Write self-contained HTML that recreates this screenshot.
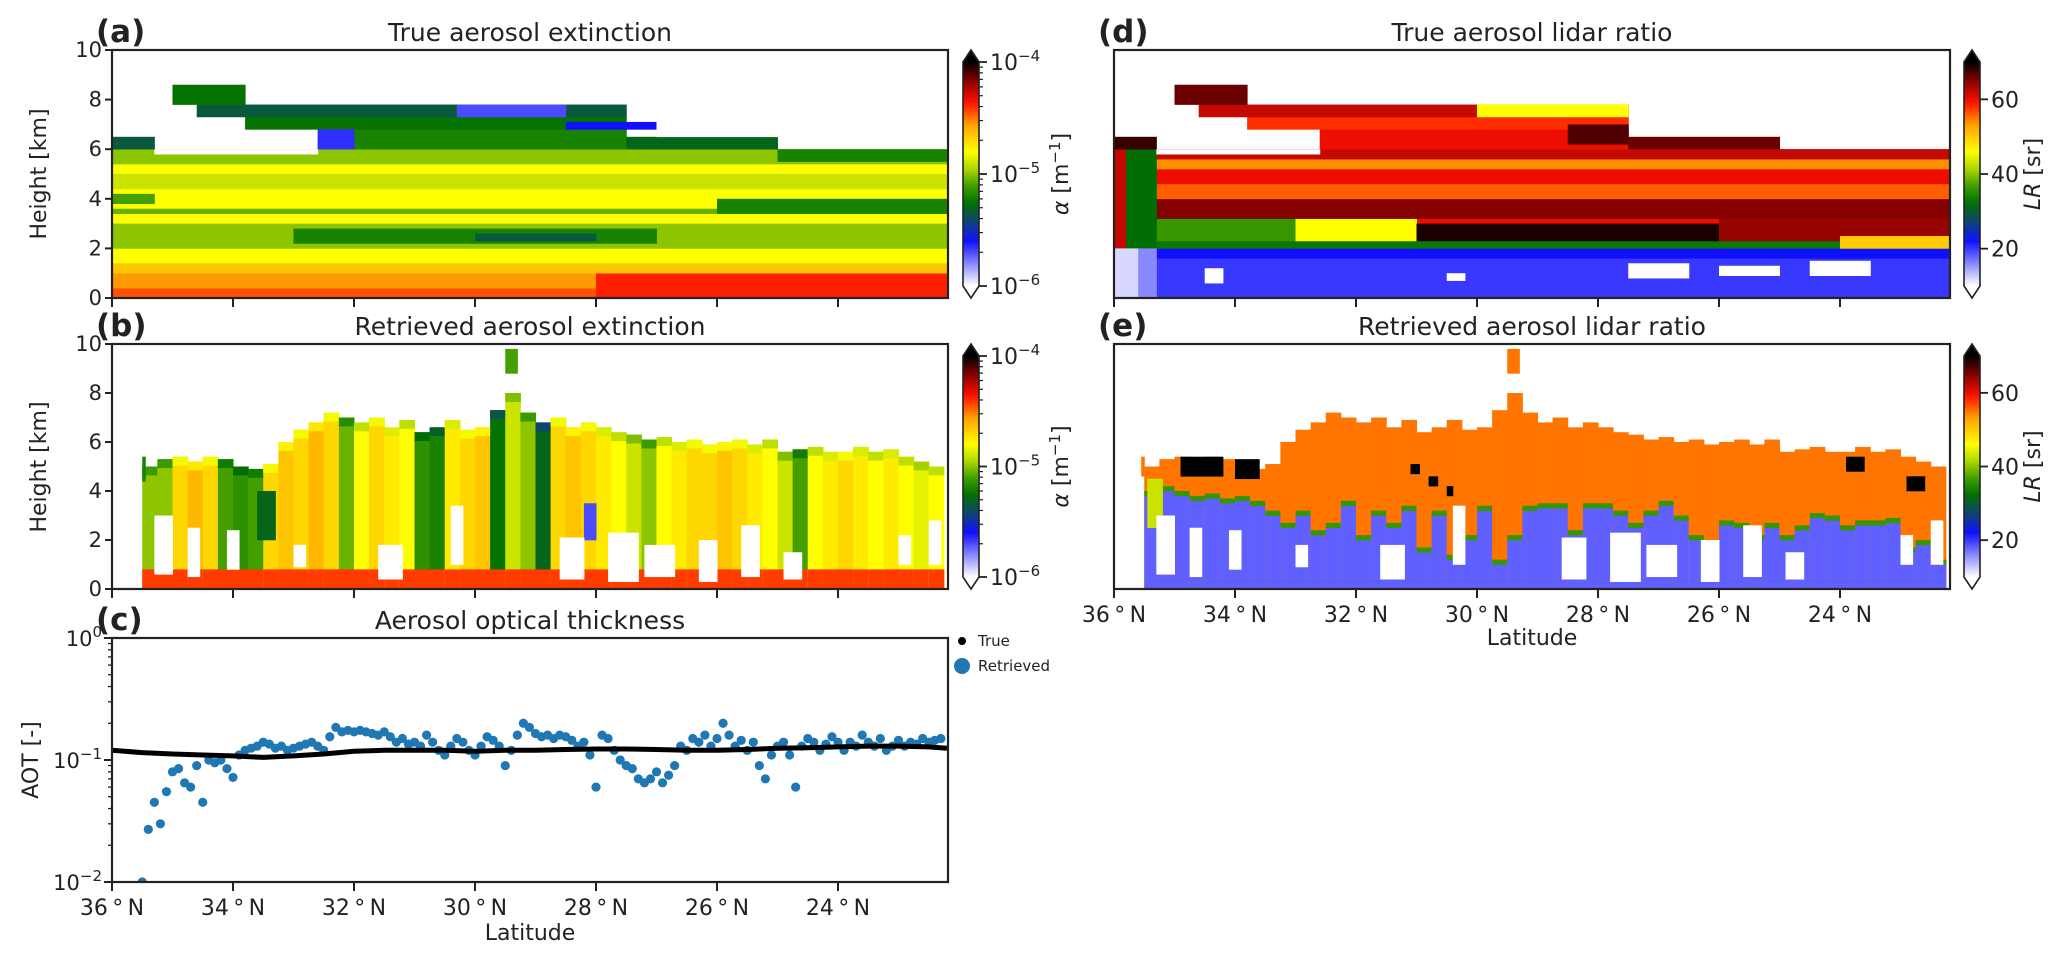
<!DOCTYPE html>
<html><head><meta charset="utf-8">
<style>
html,body{margin:0;padding:0;background:#fff;}
svg{display:block;font-family:"DejaVu Sans","Liberation Sans",sans-serif;}
</style></head>
<body>
<svg id="fig" width="2067" height="958" viewBox="0 0 2067 958" xmlns="http://www.w3.org/2000/svg"></svg>
<script>
// ---------------- DATA ----------------
// panel (a): true extinction layers [latFrom, latTo, hBottom km, hTop km, log10 alpha]
const extTrueLayers = [
 [36,22.1,0,6.0,-4.8],
 [36,22.1,0,0.4,-4.45],[36,22.1,0.4,1.0,-4.55],[28,22.1,0,1.0,-4.38],[36,22.1,1.0,1.4,-4.65],
 [36,22.1,2.0,3.0,-5.0],[33,27,2.2,2.8,-5.2],[30,28,2.3,2.6,-5.35],
 [36,35.3,3.8,4.2,-5.1],[36,22.1,3.4,3.6,-5.05],[26,22.1,3.4,4.0,-5.2],
 [36,22.1,4.4,5.0,-4.9],[36,22.1,5.4,6.0,-5.0],[25,22.1,5.5,6.0,-5.2],
 [36,35.3,6.0,6.5,-5.35],[32.6,27.5,6.0,6.8,-5.2],[33.8,27.5,6.8,7.3,-5.25],[34.6,27.5,7.3,7.8,-5.35],
 [32.6,32.0,6.0,6.8,-5.65],[30.3,28.5,7.3,7.8,-5.7],[28.5,27.0,6.8,7.1,-5.6],
 [27.5,25.0,6.0,6.5,-5.3],[35.0,33.8,7.8,8.6,-5.25],
 [35.3,32.6,5.8,6.0,null],[27.0,22.1,6.5,8,null]
];
// panel (d): true lidar ratio layers [latFrom, latTo, hBottom, hTop, LR sr]
const lrTrueLayers = [
 [36,22.1,0,6.0,60],
 [36,22.1,0,1.6,20],[36,22.1,1.6,2.0,22],[36,22.1,2.0,2.3,33],
 [36,33,2.3,3.2,36],[33,31,2.3,3.2,46],[31,26,2.3,3.0,69],[26,22.1,2.3,3.2,64],[24,22.1,2.0,2.5,50],
 [36,22.1,3.2,4.0,65],[36,22.1,4.0,4.6,56],[36,22.1,4.6,5.2,60],[36,22.1,5.2,5.6,54],[36,22.1,5.6,6.0,62],
 [36,35.8,2.0,6.0,62],[35.8,35.3,2.0,6.0,32],[36,35.6,0,2.0,12],[35.6,35.3,0,2.0,16],[36,35.3,6.0,6.5,68],
 [32.6,27.5,6.0,6.8,60],[33.8,27.5,6.8,7.3,58],[34.6,27.5,7.3,7.8,62],[30,27.5,7.3,7.8,46],[28.5,27.5,6.2,7.0,67],
 [27.5,25.0,6.0,6.5,66],[35.0,33.8,7.8,8.6,66],
 [34.5,34.2,0.6,1.2,null],[30.5,30.2,0.7,1.0,null],[27.5,26.5,0.8,1.4,null],[26,25,0.9,1.3,null],[24.5,23.5,0.9,1.5,null],
 [35.3,32.6,5.8,6.0,null]
];
// retrieval columns (0.25 deg wide, from 36N southward)
const colTop = [0,0,5.0,5.3,5.4,5.2,5.4,5.3,5.0,4.9,5.1,6.0,6.5,6.8,7.2,7.0,6.8,7.0,6.6,6.9,6.4,6.6,6.9,6.5,6.6,7.3,8.0,7.2,6.8,7.0,6.6,6.8,6.6,6.4,6.3,6.1,6.2,6.0,6.1,5.9,6.0,6.1,5.9,6.1,5.6,5.7,5.8,5.6,5.6,5.8,5.6,5.7,5.4,5.2,5.0];
const extRetCol = [0,0,-5.0,-5.0,-4.7,-4.62,-4.7,-5.1,-5.15,-5.1,-4.7,-4.65,-4.7,-4.62,-4.7,-5.05,-4.8,-4.7,-4.75,-4.8,-5.15,-5.2,-4.75,-4.7,-4.65,-5.25,-4.9,-5.0,-5.3,-4.7,-4.65,-4.7,-4.75,-4.8,-4.9,-5.0,-4.8,-4.75,-4.7,-4.7,-4.65,-4.7,-4.75,-4.8,-4.9,-5.1,-4.8,-4.75,-4.7,-4.75,-4.8,-4.75,-4.8,-4.85,-4.8];
const lrBlueTop = [0,0,3.8,4.0,3.8,3.6,3.7,3.5,3.6,3.4,3.0,2.5,3.0,2.2,2.5,3.4,2.0,3.0,2.5,3.2,1.5,3.0,1.2,2.0,3.2,1.0,2.0,3.2,3.3,3.3,2.2,3.3,3.3,3.0,2.5,3.0,3.4,2.8,2.0,1.8,2.6,2.5,2.0,2.5,2.0,2.4,2.9,2.8,2.4,2.6,2.6,2.7,1.5,1.8,1.0];
// gaps with no retrieval [latFrom, latTo, hBottom, hTop]
const holes = [[35.3,35.0,0.6,3.0],[34.75,34.55,0.5,2.5],[34.1,33.9,0.8,2.4],[33.0,32.8,0.9,1.8],[31.6,31.2,0.4,1.8],[30.4,30.2,1.0,3.4],[28.6,28.2,0.4,2.1],[27.8,27.3,0.3,2.3],[27.2,26.7,0.5,1.8],[26.3,26.0,0.3,2.0],[25.6,25.3,0.5,2.6],[24.9,24.6,0.4,1.5],[23.0,22.8,1.0,2.2],[22.5,22.3,1.0,2.8]];
const lrPatches = [[34.9,34.2,4.6,5.4,70],[34.0,33.6,4.5,5.3,70],[31.1,30.95,4.7,5.1,70],[30.8,30.65,4.2,4.6,70],[30.5,30.4,3.8,4.2,70],[23.9,23.6,4.8,5.4,70],[22.9,22.6,4.0,4.6,70],[35.45,35.2,2.5,4.5,43],[35.55,35.5,4.6,5.4,55]];
const extPatches = [[35.5,35.45,4.4,5.4,-5.2],[29.5,29.3,8.8,9.8,-5.1],[33.6,33.3,2.0,4.0,-5.3],[28.2,28.0,2.0,3.5,-5.7]];
// panel (c): AOT
const latTrue = [36,35.5,35,34.5,34,33.5,33,32.5,32,31.5,31,30.5,30,29.5,29,28.5,28,27.5,27,26.5,26,25.5,25,24.5,24,23.5,23,22.5,22.2];
const aotTrue = [0.12,0.115,0.112,0.11,0.108,0.105,0.108,0.112,0.118,0.12,0.12,0.12,0.118,0.12,0.12,0.122,0.123,0.123,0.122,0.12,0.12,0.122,0.125,0.126,0.128,0.13,0.13,0.128,0.125];
const latRetStart = 35.5, latRetStep = 0.1;
const aotRet = [0.01,0.027,0.045,0.03,0.055,0.08,0.085,0.065,0.06,0.09,0.045,0.1,0.095,0.1,0.085,0.072,0.11,0.12,0.125,0.13,0.14,0.135,0.125,0.13,0.12,0.125,0.13,0.135,0.14,0.13,0.12,0.155,0.185,0.17,0.175,0.17,0.175,0.17,0.165,0.16,0.17,0.155,0.14,0.15,0.135,0.14,0.13,0.16,0.14,0.12,0.11,0.13,0.15,0.14,0.12,0.11,0.13,0.155,0.145,0.13,0.09,0.12,0.16,0.2,0.185,0.165,0.155,0.16,0.15,0.16,0.155,0.145,0.13,0.14,0.11,0.06,0.16,0.15,0.12,0.1,0.09,0.085,0.07,0.065,0.07,0.08,0.065,0.075,0.09,0.13,0.12,0.15,0.14,0.16,0.13,0.15,0.2,0.16,0.13,0.145,0.12,0.14,0.09,0.07,0.11,0.13,0.14,0.11,0.06,0.13,0.15,0.14,0.12,0.135,0.155,0.14,0.12,0.14,0.13,0.16,0.14,0.13,0.15,0.12,0.13,0.145,0.13,0.14,0.135,0.15,0.14,0.145,0.15];
const heightTicks = [0,2,4,6,8,10];
const latTicks = [36,34,32,30,28,26,24];
const extCbTicks = [-4,-5,-6];
const lrCbTicks = [20,40,60];

// ---------------- helpers ----------------
const NS='http://www.w3.org/2000/svg';
const svg=document.getElementById('fig');
function el(tag,attrs,parent,text){const e=document.createElementNS(NS,tag);for(const k in attrs)e.setAttribute(k,attrs[k]);if(text!==undefined)e.textContent=text;(parent||svg).appendChild(e);return e;}
const stops=[[0,[255,255,255]],[0.2,[16,16,255]],[0.3,[16,74,96]],[0.37,[0,112,0]],[0.45,[68,160,0]],[0.52,[170,212,0]],[0.6,[255,255,0]],[0.72,[255,160,0]],[0.82,[255,16,0]],[0.92,[128,0,0]],[1,[0,0,0]]];
function cmap(t){t=Math.max(0,Math.min(1,t));for(let i=1;i<stops.length;i++){if(t<=stops[i][0]){const a=stops[i-1],b=stops[i];const f=(t-a[0])/(b[0]-a[0]);const c=a[1].map((v,j)=>Math.round(v+(b[1][j]-v)*f));return `rgb(${c[0]},${c[1]},${c[2]})`;}}return 'rgb(0,0,0)';}
const extT=v=>(v+6)/2, lrT=v=>(v-10)/60;
const LAT0=36, PXDEG=60.5;
function makePanel(left,top,bottom,right){return {left,top,bottom,right,x:lat=>left+(LAT0-lat)*PXDEG,y:h=>bottom-h/10*(bottom-top)};}
const A=makePanel(112,50,298,948), B=makePanel(112,344,589,948), C=makePanel(112,638,882,948);
const D=makePanel(1114,50,298,1950), E=makePanel(1114,344,589,1950);
let clipN=0;
const defs=el('defs',{});
function clipFor(P){const id='clip'+(clipN++);const cp=el('clipPath',{id},defs);el('rect',{x:P.left,y:P.top,width:P.right-P.left,height:P.bottom-P.top},cp);return `url(#${id})`;}
function rectLayer(g,P,l0,l1,h0,h1,fill,name){const x0=P.x(l0),x1=P.x(l1);const r=el('rect',{x:Math.min(x0,x1),y:P.y(h1),width:Math.abs(x1-x0)+0.5,height:P.y(h0)-P.y(h1)+0.3,fill},g);

return r;}
function frame(P,name){const r=el('rect',{x:P.left,y:P.top,width:P.right-P.left,height:P.bottom-P.top,fill:'none',stroke:'#222','stroke-width':2.2});

}
function xTicks(P,labels,name){const g=el('g',{});


latTicks.forEach(l=>{const x=P.x(l);el('line',{x1:x,x2:x,y1:P.bottom,y2:P.bottom+9,stroke:'#222','stroke-width':2},g);
 if(labels){el('text',{x:x,y:P.bottom+33,'font-size':22,'text-anchor':'middle',fill:'#222'},g,l+'\u2009\u00b0\u2009N');}});}
function yHeightTicks(P,name){const g=el('g',{});


heightTicks.forEach(h=>{const y=P.y(h);el('line',{x1:P.left-7,x2:P.left,y1:y,y2:y,stroke:'#222','stroke-width':2},g);
 el('text',{x:P.left-10,y:y+7,'font-size':21,'text-anchor':'end',fill:'#222'},g,String(h));});}
function titles(P,label,title,nameL,nameT){const cx=(P.left+P.right)/2;
 const t=el('text',{x:cx,y:P.top-9,'font-size':25,'text-anchor':'middle',fill:'#222'},svg,title);
 
 
 const l=el('text',{x:P.left-16,y:P.top-8,'font-size':31,'font-weight':'bold',fill:'#222'},svg,label);
 
 }
function yTitle(x,cy,txt,name){const t=el('text',{x:x,y:cy,'font-size':22,'text-anchor':'middle',fill:'#222',transform:`rotate(-90 ${x} ${cy})`},svg,txt);
 
 return t;}

// ---------------- panel (a) ----------------
{const g=el('g',{'clip-path':clipFor(A)});


extTrueLayers.forEach(L=>rectLayer(g,A,L[0],L[1],L[2],L[3],L[4]===null?'#fff':cmap(extT(L[4])),'extinction-layer'));}
frame(A,'panel-a-axes');xTicks(A,false,'panel-a-x-ticks');yHeightTicks(A,'panel-a-y-ticks');
titles(A,'(a)','True aerosol extinction','panel-a-label','panel-a-title');
yTitle(46,174,'Height [km]','panel-a-y-title');

// ---------------- panel (b) ----------------
{const g=el('g',{'clip-path':clipFor(B)});


colTop.forEach((t,i)=>{if(!t)return;const l0=LAT0-i*0.25,l1=l0-0.25;
 rectLayer(g,B,l0,l1,0,t,cmap(extT(extRetCol[i])),'extinction-column');
 rectLayer(g,B,l0,l1,0,0.8,cmap(extT(-4.42)),'extinction-column-base');
 rectLayer(g,B,l0,l1,t-0.35,t,cmap(extT(extRetCol[i]-0.12)),'extinction-column-top');});
extPatches.forEach(p=>rectLayer(g,B,p[0],p[1],p[2],p[3],cmap(extT(p[4])),'extinction-patch'));
holes.forEach(h=>rectLayer(g,B,h[0],h[1],h[2],h[3],'#fff','retrieval-gap'));}
frame(B,'panel-b-axes');xTicks(B,false,'panel-b-x-ticks');yHeightTicks(B,'panel-b-y-ticks');
titles(B,'(b)','Retrieved aerosol extinction','panel-b-label','panel-b-title');
yTitle(46,467,'Height [km]','panel-b-y-title');

// ---------------- panel (d) ----------------
{const g=el('g',{'clip-path':clipFor(D)});


lrTrueLayers.forEach(L=>rectLayer(g,D,L[0],L[1],L[2],L[3],L[4]===null?'#fff':cmap(lrT(L[4])),'lidar-ratio-layer'));}
frame(D,'panel-d-axes');xTicks(D,false,'panel-d-x-ticks');
titles(D,'(d)','True aerosol lidar ratio','panel-d-label','panel-d-title');

// ---------------- panel (e) ----------------
{const g=el('g',{'clip-path':clipFor(E)});


colTop.forEach((t,i)=>{if(!t)return;const l0=LAT0-i*0.25,l1=l0-0.25;
 rectLayer(g,E,l0,l1,0,t,cmap(lrT(55)),'lidar-ratio-column');
 const bt=lrBlueTop[i];
 if(bt){rectLayer(g,E,l0,l1,0,bt,cmap(lrT(18)),'lidar-ratio-low');
  rectLayer(g,E,l0,l1,bt,bt+0.2,cmap(lrT(36)),'lidar-ratio-edge');}});
rectLayer(g,E,29.5,29.3,8.8,9.8,cmap(lrT(55)),'lidar-ratio-blob');
lrPatches.forEach(p=>rectLayer(g,E,p[0],p[1],p[2],p[3],cmap(lrT(p[4])),'lidar-ratio-patch'));
holes.forEach(h=>rectLayer(g,E,h[0],h[1],h[2],h[3],'#fff','retrieval-gap'));}
frame(E,'panel-e-axes');xTicks(E,true,'panel-e-x-ticks');
titles(E,'(e)','Retrieved aerosol lidar ratio','panel-e-label','panel-e-title');
{const t=el('text',{x:(E.left+E.right)/2,y:645,'font-size':22,'text-anchor':'middle',fill:'#222'},svg,'Latitude');

}

// ---------------- colorbars ----------------
function colorbar(cx,top,bottom,tFn,ticks,fmt,label,name,logMinor,labelOff){
 const g=el('g',{});
 
 
 const id='grad'+name;const lg=el('linearGradient',{id,x1:0,y1:1,x2:0,y2:0},defs);
 for(let i=0;i<=40;i++){el('stop',{offset:i/40,'stop-color':cmap(i/40)},lg);}
 const w=16,x=cx-w/2,tri=12,rt=top+tri,rb=bottom-tri;
 el('rect',{x,y:rt,width:w,height:rb-rt,fill:`url(#${id})`},g);
 el('path',{d:`M${x} ${rt} L${cx} ${top} L${x+w} ${rt} Z`,fill:cmap(1)},g);
 el('path',{d:`M${x} ${rb} L${cx} ${bottom} L${x+w} ${rb} Z`,fill:cmap(0)},g);
 el('path',{d:`M${x} ${rt} L${cx} ${top} L${x+w} ${rt} L${x+w} ${rb} L${cx} ${bottom} L${x} ${rb} Z`,fill:'none',stroke:'#222','stroke-width':1.6},g);
 const yOf=v=>rb-tFn(v)*(rb-rt);
 ticks.forEach(v=>{const y=yOf(v);el('line',{x1:x+w,x2:x+w+8,y1:y,y2:y,stroke:'#222','stroke-width':1.8},g);
  const t=el('text',{x:x+w+11,y:y+8,'font-size':22,fill:'#222'},g);fmt(t,v);});
 if(logMinor){for(let d=-6;d<-4;d++)for(let m=2;m<10;m++){const y=yOf(d+Math.log10(m));el('line',{x1:x+w,x2:x+w+4,y1:y,y2:y,stroke:'#222','stroke-width':1.2},g);}}
 const lx=cx+labelOff,ly=(top+bottom)/2;const lt=el('text',{x:lx,y:ly,'font-size':22,'text-anchor':'middle',fill:'#222',transform:`rotate(-90 ${lx} ${ly})`},g);label(lt);
}
function expFmt(t,v){el('tspan',{},t,'10');el('tspan',{dy:-9,'font-size':15},t,'\u2212'+Math.abs(v));}
function alphaLabel(t){el('tspan',{'font-style':'italic'},t,'\u03b1');el('tspan',{},t,' [m');el('tspan',{dy:-8,'font-size':15},t,'\u22121');el('tspan',{dy:8},t,']');}
function lrLabel(t){el('tspan',{'font-style':'italic'},t,'LR');el('tspan',{},t,' [sr]');}
colorbar(971,50,298,v=>(v+6)/2,extCbTicks,expFmt,alphaLabel,'colorbar-extinction-a',true,97);
colorbar(971,344,589,v=>(v+6)/2,extCbTicks,expFmt,alphaLabel,'colorbar-extinction-b',true,97);
colorbar(1972,50,298,v=>(v-10)/60,lrCbTicks,(t,v)=>{t.textContent=String(v);},lrLabel,'colorbar-lidar-ratio-d',false,68);
colorbar(1972,344,589,v=>(v-10)/60,lrCbTicks,(t,v)=>{t.textContent=String(v);},lrLabel,'colorbar-lidar-ratio-e',false,68);

// ---------------- panel (c) ----------------
const yAot=v=>C.bottom-(Math.log10(v)+2)/2*(C.bottom-C.top);
{const g=el('g',{'clip-path':clipFor(C)});


aotRet.forEach((v,i)=>{const lat=latRetStart-i*latRetStep;
 const c=el('circle',{cx:C.x(lat),cy:yAot(v),r:4.6,fill:'#1f77b4'},g);
 
 });
const pts=latTrue.map((l,i)=>`${C.x(l).toFixed(1)},${yAot(aotTrue[i]).toFixed(1)}`).join(' ');
const pl=el('polyline',{points:pts,fill:'none',stroke:'#000','stroke-width':5,'stroke-linejoin':'round'},g);

}
frame(C,'panel-c-axes');xTicks(C,true,'panel-c-x-ticks');
{const g=el('g',{});


[0,-1,-2].forEach(d=>{const y=yAot(Math.pow(10,d));el('line',{x1:C.left-8,x2:C.left,y1:y,y2:y,stroke:'#222','stroke-width':2},g);
 const t=el('text',{x:C.left-10,y:y+8,'font-size':21,'text-anchor':'end',fill:'#222'},g);
 el('tspan',{},t,'10');el('tspan',{dy:-9,'font-size':15},t,d===0?'0':'\u2212'+Math.abs(d));});
for(let d=-2;d<0;d++)for(let m=2;m<10;m++){const y=yAot(m*Math.pow(10,d));el('line',{x1:C.left-4,x2:C.left,y1:y,y2:y,stroke:'#222','stroke-width':1.3},g);}}
titles(C,'(c)','Aerosol optical thickness','panel-c-label','panel-c-title');
yTitle(38,760,'AOT [-]','panel-c-y-title');
{const t=el('text',{x:530,y:940,'font-size':22,'text-anchor':'middle',fill:'#222'},svg,'Latitude');

}
// legend
{const g=el('g',{});


const e1=el('g',{},g);


el('circle',{cx:962,cy:641,r:4,fill:'#000'},e1);el('text',{x:978,y:646,'font-size':15,fill:'#222'},e1,'True');
const e2=el('g',{},g);


el('circle',{cx:962,cy:666,r:8,fill:'#1f77b4'},e2);el('text',{x:978,y:671,'font-size':15,fill:'#222'},e2,'Retrieved');}
</script>
</body></html>
